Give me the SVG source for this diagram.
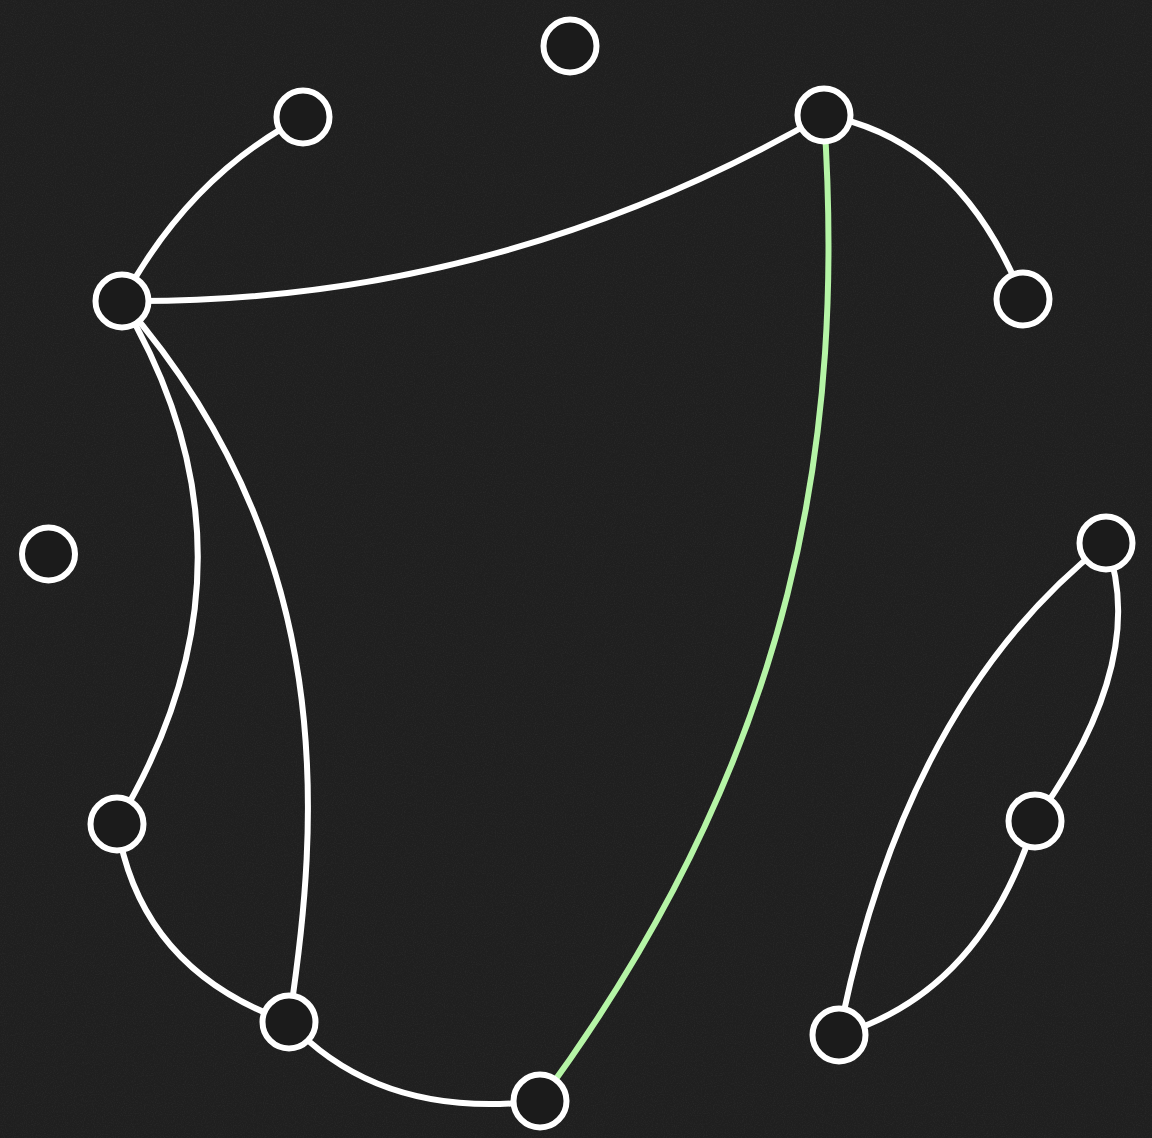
<svg xmlns="http://www.w3.org/2000/svg" width="1152" height="1138" viewBox="0 0 1152 1138">
<style>
.edge{fill:none;stroke:#ffffff;stroke-width:6;stroke-linecap:round}
.hl{stroke:#b5f5a6}
.node circle{fill:#1b1b1b;stroke:#ffffff;stroke-width:6}
</style>
<defs>
<filter id="noise" x="0" y="0" width="100%" height="100%">
<feTurbulence type="fractalNoise" baseFrequency="0.9" numOctaves="2" seed="3" result="t"/>
<feColorMatrix in="t" type="matrix" values="0 0 0 0 1  0 0 0 0 1  0 0 0 0 1  0.6 0 0 0 -0.25"/>
</filter>
</defs>
<rect width="1152" height="1138" fill="#1f1f1f"/>
<rect width="1152" height="1138" filter="url(#noise)" opacity="0.14"/>
<g id="connectors">
<path class="edge" d="M303,117 Q190,175 122,301"/>
<path class="edge" d="M122,301 Q495,305 824,115"/>
<path class="edge" d="M824,115 Q960,140 1023,299"/>
<path class="edge hl" d="M824,115 C845,430 800,750 540,1101"/>
<path class="edge" d="M122,301 Q276,560 117,824"/>
<path class="edge" d="M122,301 C340,550 320,820 289,1022"/>
<path class="edge" d="M117,824 Q140,970 289,1022"/>
<path class="edge" d="M289,1022 Q380,1120 540,1101"/>
<path class="edge" d="M1106,543 Q905,700 839,1035"/>
<path class="edge" d="M1106,543 Q1150,660 1035,821"/>
<path class="edge" d="M1035,821 Q982,992 839,1035"/>
</g>
<g id="n1" class="node"><circle cx="570" cy="46" r="26.5"/></g>
<g id="n2" class="node"><circle cx="303" cy="117" r="26.5"/></g>
<g id="n3" class="node"><circle cx="824" cy="115" r="26.5"/></g>
<g id="n4" class="node"><circle cx="122" cy="301" r="26.5"/></g>
<g id="n5" class="node"><circle cx="1023" cy="299" r="26.5"/></g>
<g id="n6" class="node"><circle cx="48.5" cy="554" r="26.5"/></g>
<g id="n7" class="node"><circle cx="1106" cy="543" r="26.5"/></g>
<g id="n8" class="node"><circle cx="117" cy="824" r="26.5"/></g>
<g id="n9" class="node"><circle cx="1035" cy="821" r="26.5"/></g>
<g id="n10" class="node"><circle cx="289" cy="1022" r="26.5"/></g>
<g id="n11" class="node"><circle cx="839" cy="1035" r="26.5"/></g>
<g id="n12" class="node"><circle cx="540" cy="1101" r="26.5"/></g>
</svg>
